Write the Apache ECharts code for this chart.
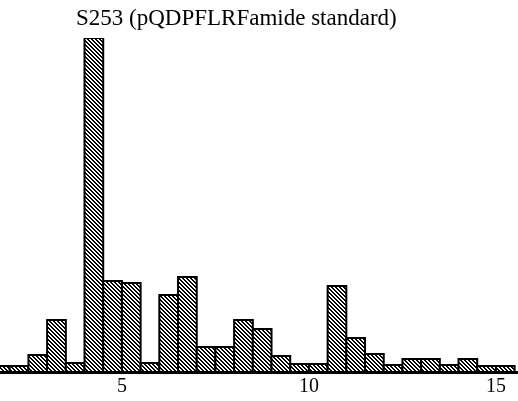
<!DOCTYPE html>
<html>
<head>
<meta charset="utf-8">
<script src="https://cdn.jsdelivr.net/npm/echarts@6/dist/echarts.min.js"></script>
<style>
html,body{margin:0;padding:0;background:#fff;}
#chart{width:518px;height:401px;}
</style>
</head>
<body>
<div id="chart"></div>
<script>
// Data (bin start in time units, bin width 0.5)
const titleText = 'S253 (pQDPFLRFamide standard)';
const binStarts = [1.5,2.0,2.5,3.0,3.5,4.0,4.5,5.0,5.5,6.0,6.5,7.0,7.5,8.0,8.5,9.0,9.5,10.0,10.5,11.0,11.5,12.0,12.5,13.0,13.5,14.0,14.5,15.0];
const counts    = [6,6,17,52,9,334,91,89,9,77,95,25,25,52,43,16,8,8,86,34,18,7,13,13,7,13,6,6];
const binWidth = 0.5;
const tickLabels = [5, 10, 15];

// hatch pattern "\\\\"
const pc = document.createElement('canvas');
pc.width = 4; pc.height = 4;
const pctx = pc.getContext('2d');
pctx.fillStyle = '#fff';
pctx.fillRect(0,0,4,4);
pctx.fillStyle = '#000';
for (let y = 0; y < 4; y++) {
  for (let x = 0; x < 4; x++) {
    if ((((x - y) % 4) + 4) % 4 < 2) pctx.fillRect(x, y, 1, 1);
  }
}

const chart = echarts.init(document.getElementById('chart'), null, {renderer: 'canvas'});
const data = binStarts.map((b, i) => [b, counts[i]]);

chart.setOption({
  animation: false,
  backgroundColor: '#fff',
  title: {
    text: titleText,
    left: 71,
    top: 2,
    textStyle: {fontFamily: 'Liberation Serif', fontSize: 23, fontWeight: 'normal', color: '#000'}
  },
  grid: {left: 0, right: 0, top: 38, bottom: 29, containLabel: false},
  xAxis: {
    type: 'value',
    min: 1.74,
    max: 15.59,
    axisLine: {show: true, onZero: false, lineStyle: {color: '#000', width: 3}},
    axisTick: {show: false},
    splitLine: {show: false},
    axisLabel: {
      customValues: tickLabels,
      margin: 5,
      fontFamily: 'Liberation Serif',
      fontSize: 20,
      color: '#000'
    }
  },
  yAxis: {
    type: 'value', min: 0, max: 334, show: false
  },
  series: [{
    type: 'custom',
    clip: true,
    data: data,
    renderItem: function (params, api) {
      const x0 = api.value(0);
      const h = api.value(1);
      const p0 = api.coord([x0, h]);
      const p1 = api.coord([x0 + binWidth, 0]);
      return {
        type: 'rect',
        shape: {x: p0[0], y: p0[1], width: p1[0] - p0[0], height: p1[1] - p0[1]},
        style: {
          fill: {image: pc, repeat: 'repeat'},
          stroke: '#000',
          lineWidth: 2
        }
      };
    }
  }]
});
</script>
</body>
</html>
